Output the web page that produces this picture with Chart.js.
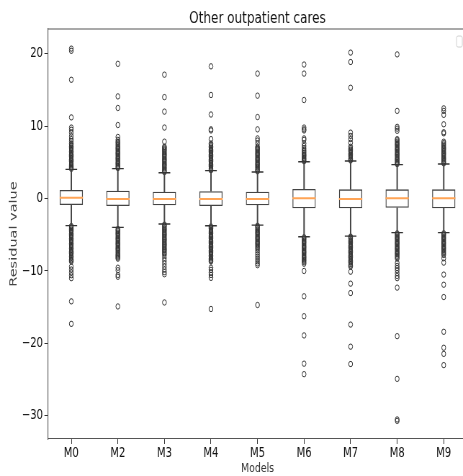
<!DOCTYPE html>
<html>
<head>
<meta charset="utf-8">
<script src="https://cdn.jsdelivr.net/npm/chart.js@4.4.0/dist/chart.umd.min.js"></script>
<style>
  html, body { margin: 0; padding: 0; background: #fff; overflow: hidden; }
  /* the reference is a horizontally squeezed figure, so draw wide and squeeze */
  #wrap { width: 660px; height: 476px; transform: scaleX(0.72); transform-origin: 0 0; }
</style>
</head>
<body>
<div id="wrap"><canvas id="chart" width="660" height="476"></canvas></div>
<script>
// Box statistics per model
const models = ['M0', 'M2', 'M3', 'M4', 'M5', 'M6', 'M7', 'M8', 'M9'];
const q1 = [-0.9, -1.04, -0.94, -1.04, -0.94, -1.35, -1.35, -1.27, -1.35];
const median = [0.11, -0.05, -0.05, -0.05, -0.05, 0.05, -0.05, 0.05, 0.05];
const q3 = [1.17, 1.08, 0.94, 1.0, 0.94, 1.31, 1.27, 1.27, 1.27];
const whiskerLow = [-3.73, -3.98, -3.52, -3.76, -3.66, -5.28, -5.18, -4.72, -4.72];
const whiskerHigh = [4.03, 4.12, 3.56, 3.84, 3.66, 5.08, 5.18, 4.67, 4.77];
const yTicks = [-30, -20, -10, 0, 10, 20];

// Outliers per model (dense runs near the whiskers, then the sparse ones)
const fliersM0 = [20.7, 20.4, 16.4, 11.2, 9.8, 9.5, 9.1, 8.6, 8.2, 7.9,
  7.6, 7.4, 7.2, 7.0, 6.85, 6.7, 6.5, 6.3, 6.1, 5.95, 5.8, 5.6, 5.4, 5.25, 5.1, 4.9, 4.75, 4.6, 4.4, 4.25, 4.1,
  -3.8, -3.95, -4.1, -4.3, -4.45, -4.6, -4.8, -5.0, -5.15, -5.3, -5.5, -5.7, -5.85, -6.0, -6.2, -6.4, -6.55,
  -6.7, -6.9, -7.1, -7.3, -7.45, -7.6, -7.8, -8.0, -8.2, -8.4, -8.55, -8.7,
  -9.4, -9.8, -10.2, -10.6, -11.0, -14.2, -17.3];
const fliersM2 = [18.6, 14.1, 12.5, 10.15, 8.5, 8.1,
  7.85, 7.7, 7.5, 7.3, 7.1, 6.95, 6.8, 6.6, 6.4, 6.25, 6.1, 5.9, 5.7, 5.55, 5.4, 5.2, 5.0, 4.85, 4.7, 4.5, 4.35, 4.2,
  -4.2, -4.35, -4.5, -4.7, -4.85, -5.0, -5.2, -5.4, -5.55, -5.7, -5.9, -6.1, -6.25, -6.4, -6.6, -6.8, -6.95,
  -7.1, -7.3, -7.5, -7.7, -7.85, -8.0, -8.15, -8.3,
  -9.55, -9.9, -10.55, -10.8, -14.9];
const fliersM3 = [17.1, 14.0, 12.0, 9.8, 7.85,
  7.15, 7.05, 6.9, 6.75, 6.6, 6.4, 6.2, 6.05, 5.9, 5.7, 5.5, 5.35, 5.2, 5.0, 4.8, 4.65, 4.5, 4.3, 4.15, 3.95, 3.8, 3.65,
  -3.6, -3.75, -3.9, -4.1, -4.25, -4.4, -4.6, -4.8, -4.95, -5.1, -5.3, -5.5, -5.65, -5.8, -6.0, -6.2, -6.35,
  -6.5, -6.7, -6.9, -7.05, -7.2, -7.4, -7.6, -7.8,
  -8.2, -8.6, -9.0, -9.4, -9.8, -10.15, -10.45, -14.35];
const fliersM4 = [18.25, 14.3, 11.6, 9.55, 9.4, 8.2, 7.6,
  7.4, 7.2, 7.0, 6.8, 6.65, 6.5, 6.3, 6.1, 5.95, 5.8, 5.6, 5.4, 5.25, 5.1, 4.9, 4.7, 4.55, 4.4, 4.2, 4.05, 3.9,
  -3.85, -4.0, -4.15, -4.35, -4.5, -4.65, -4.85, -5.05, -5.2, -5.35, -5.55, -5.75, -5.9, -6.05, -6.25, -6.45,
  -6.6, -6.75, -6.95, -7.15, -7.35, -7.5, -7.65, -7.85, -8.05, -8.25, -8.45, -8.6, -8.7,
  -9.55, -9.85, -10.2, -10.55, -10.95, -15.25];
const fliersM5 = [17.25, 14.2, 11.25, 9.55, 8.3, 8.0, 7.6,
  7.15, 7.0, 6.85, 6.7, 6.5, 6.3, 6.15, 6.0, 5.8, 5.6, 5.45, 5.3, 5.1, 4.9, 4.75, 4.6, 4.4, 4.25, 4.05, 3.9, 3.75,
  -3.75, -3.9, -4.05, -4.25, -4.4, -4.6, -4.75, -4.9, -5.1, -5.3, -5.45, -5.6, -5.8, -6.0, -6.15, -6.3, -6.5,
  -6.7, -6.9,
  -7.15, -7.45, -7.75, -8.05, -8.35, -8.65, -8.95, -9.2, -14.7];
const fliersM6 = [18.5, 17.25, 13.6, 9.8, 9.55, 9.4, 8.3, 8.1, 7.6, 7.25, 6.95,
  6.7, 6.5, 6.3, 6.1, 5.95, 5.8, 5.6, 5.45, 5.3, 5.15,
  -5.35, -5.5, -5.65, -5.85, -6.0, -6.15, -6.35, -6.55, -6.7, -6.85, -7.05, -7.25, -7.4, -7.55, -7.75, -7.95,
  -8.1, -8.25, -8.45, -8.6, -8.8, -9.0,
  -10.0, -13.5, -16.25, -18.9, -22.8, -24.25];
const fliersM7 = [20.15, 18.85, 15.3, 9.1, 8.65, 8.2, 7.7,
  7.15, 6.95, 6.75, 6.6, 6.45, 6.25, 6.05, 5.9, 5.75, 5.55, 5.4, 5.25,
  -5.25, -5.4, -5.55, -5.75, -5.9, -6.05, -6.25, -6.45, -6.6, -6.75, -6.95, -7.15, -7.3, -7.45, -7.65, -7.85,
  -8.0, -8.15, -8.35, -8.55, -8.7, -8.85, -9.05, -9.25, -9.4,
  -10.1, -11.75, -13.05, -17.4, -20.45, -22.85];
const fliersM8 = [19.9, 12.1, 9.9, 9.65, 9.35,
  8.2, 8.05, 7.85, 7.65, 7.5, 7.35, 7.15, 6.95, 6.8, 6.65, 6.45, 6.25, 6.1, 5.95, 5.75, 5.55, 5.4, 5.25, 5.05, 4.9, 4.75,
  -4.8, -4.95, -5.1, -5.3, -5.45, -5.6, -5.8, -6.0, -6.15, -6.3, -6.5, -6.7, -6.85, -7.0, -7.2, -7.4, -7.55,
  -7.7, -7.9, -8.1, -8.3,
  -8.9, -9.3, -9.6, -9.9, -10.3, -10.7, -11.0, -12.3, -19.0, -24.9, -30.5, -30.7];
const fliersM9 = [12.45, 12.1, 11.55, 10.25, 9.15, 9.0, 7.85,
  7.65, 7.45, 7.25, 7.05, 6.9, 6.75, 6.55, 6.35, 6.2, 6.05, 5.85, 5.65, 5.5, 5.35, 5.15, 5.0, 4.85,
  -4.8, -4.95, -5.1, -5.3, -5.45, -5.6, -5.8, -6.0, -6.15, -6.3, -6.5, -6.7, -6.85, -7.0, -7.2, -7.4, -7.6, -7.8,
  -8.25, -8.85, -10.5, -11.9, -13.6, -18.4, -20.6, -21.45, -23.0];
const fliers = [fliersM0, fliersM2, fliersM3, fliersM4, fliersM5, fliersM6, fliersM7, fliersM8, fliersM9];

// Build point lists for the line-style datasets
function pointsFor(values) {
    return models.map((m, i) => ({ x: m, y: values[i] }));
}
const flierPoints = [];
fliers.forEach((list, i) => {
    list.forEach(v => flierPoints.push({ x: models[i], y: v }));
});

// Minus sign like matplotlib
function formatTick(v) {
    return v < 0 ? '\u2212' + Math.abs(v) : String(v);
}

// Top/right spines and the empty legend frame
const framePlugin = {
    id: 'frame',
    afterDraw(chart) {
        const { ctx, chartArea: a } = chart;
        ctx.save();
        ctx.strokeStyle = '#555';
        ctx.lineWidth = 1.1;
        ctx.beginPath();
        ctx.moveTo(a.left, a.top);
        ctx.lineTo(a.right, a.top);
        ctx.lineTo(a.right, a.bottom);
        ctx.stroke();
        // empty legend box
        ctx.strokeStyle = '#d0d0d0';
        ctx.lineWidth = 1;
        ctx.beginPath();
        ctx.roundRect(a.right - 14.5, a.top + 7, 8, 11, 2);
        ctx.stroke();
        ctx.restore();
    }
};

Chart.defaults.font.family = "'DejaVu Sans', sans-serif";
Chart.defaults.color = '#111';

const ctx = document.getElementById('chart').getContext('2d');
new Chart(ctx, {
    type: 'bar',
    data: {
        labels: models,
        datasets: [
            {
                type: 'line',
                label: 'median',
                data: pointsFor(median),
                showLine: false,
                pointStyle: 'line',
                pointRadius: 16.2,
                pointBorderColor: '#ffa456',
                pointBorderWidth: 2,
                order: 0
            },
            {
                label: 'box',
                data: models.map((m, i) => [q1[i], q3[i]]),
                backgroundColor: 'rgba(0,0,0,0)',
                borderColor: '#444',
                borderWidth: 1.3,
                borderSkipped: false,
                barPercentage: 0.5,
                categoryPercentage: 1,
                grouped: false,
                order: 1
            },
            {
                label: 'whisker low',
                data: models.map((m, i) => [whiskerLow[i], q1[i]]),
                backgroundColor: '#444',
                barThickness: 1.3,
                grouped: false,
                order: 2
            },
            {
                label: 'whisker high',
                data: models.map((m, i) => [q3[i], whiskerHigh[i]]),
                backgroundColor: '#444',
                barThickness: 1.3,
                grouped: false,
                order: 3
            },
            {
                type: 'line',
                label: 'caps',
                data: pointsFor(whiskerLow).concat(pointsFor(whiskerHigh)),
                showLine: false,
                pointStyle: 'line',
                pointRadius: 8.1,
                pointBorderColor: '#333',
                pointBorderWidth: 1.3,
                order: 4
            },
            {
                type: 'line',
                label: 'fliers',
                data: flierPoints,
                showLine: false,
                pointStyle: 'circle',
                pointRadius: 2.7,
                pointBorderWidth: 1,
                pointBorderColor: '#333',
                pointBackgroundColor: 'rgba(0,0,0,0)',
                order: 5
            }
        ]
    },
    options: {
        responsive: false,
        devicePixelRatio: 1,
        animation: false,
        events: [],
        layout: { autoPadding: false, padding: { left: 0, right: 11.4, top: 0, bottom: 0 } },
        plugins: {
            legend: { display: false },
            tooltip: { enabled: false },
            title: {
                display: true,
                text: 'Other outpatient cares',
                fullSize: false,
                color: '#111',
                font: { size: 16.7, weight: 'normal' },
                padding: { top: 9, bottom: 0 }
            }
        },
        scales: {
            x: {
                type: 'category',
                grid: { drawOnChartArea: false, offset: false, tickLength: 5, color: '#333' },
                border: { color: '#555', width: 1.1 },
                ticks: { font: { size: 13.9 }, padding: 1, maxRotation: 0, autoSkip: false },
                title: {
                    display: true,
                    text: 'Models',
                    color: '#333',
                    font: { size: 13 },
                    padding: { top: 0, bottom: 0 }
                },
                afterFit: s => { s.height = 37; }
            },
            y: {
                min: -33.2,
                max: 23.4,
                afterBuildTicks: s => { s.ticks = yTicks.map(v => ({ value: v })); },
                grid: { drawOnChartArea: false, tickLength: 5, color: '#333' },
                border: { color: '#555', width: 1.1 },
                ticks: { font: { size: 13.9 }, padding: 2, callback: formatTick },
                title: {
                    display: true,
                    text: 'Residual value',
                    color: '#444',
                    font: { size: 14.5 },
                    padding: { top: 11, bottom: 0 }
                },
                afterFit: s => { s.width = 66.7; }
            }
        }
    },
    plugins: [framePlugin]
});
</script>
</body>
</html>
